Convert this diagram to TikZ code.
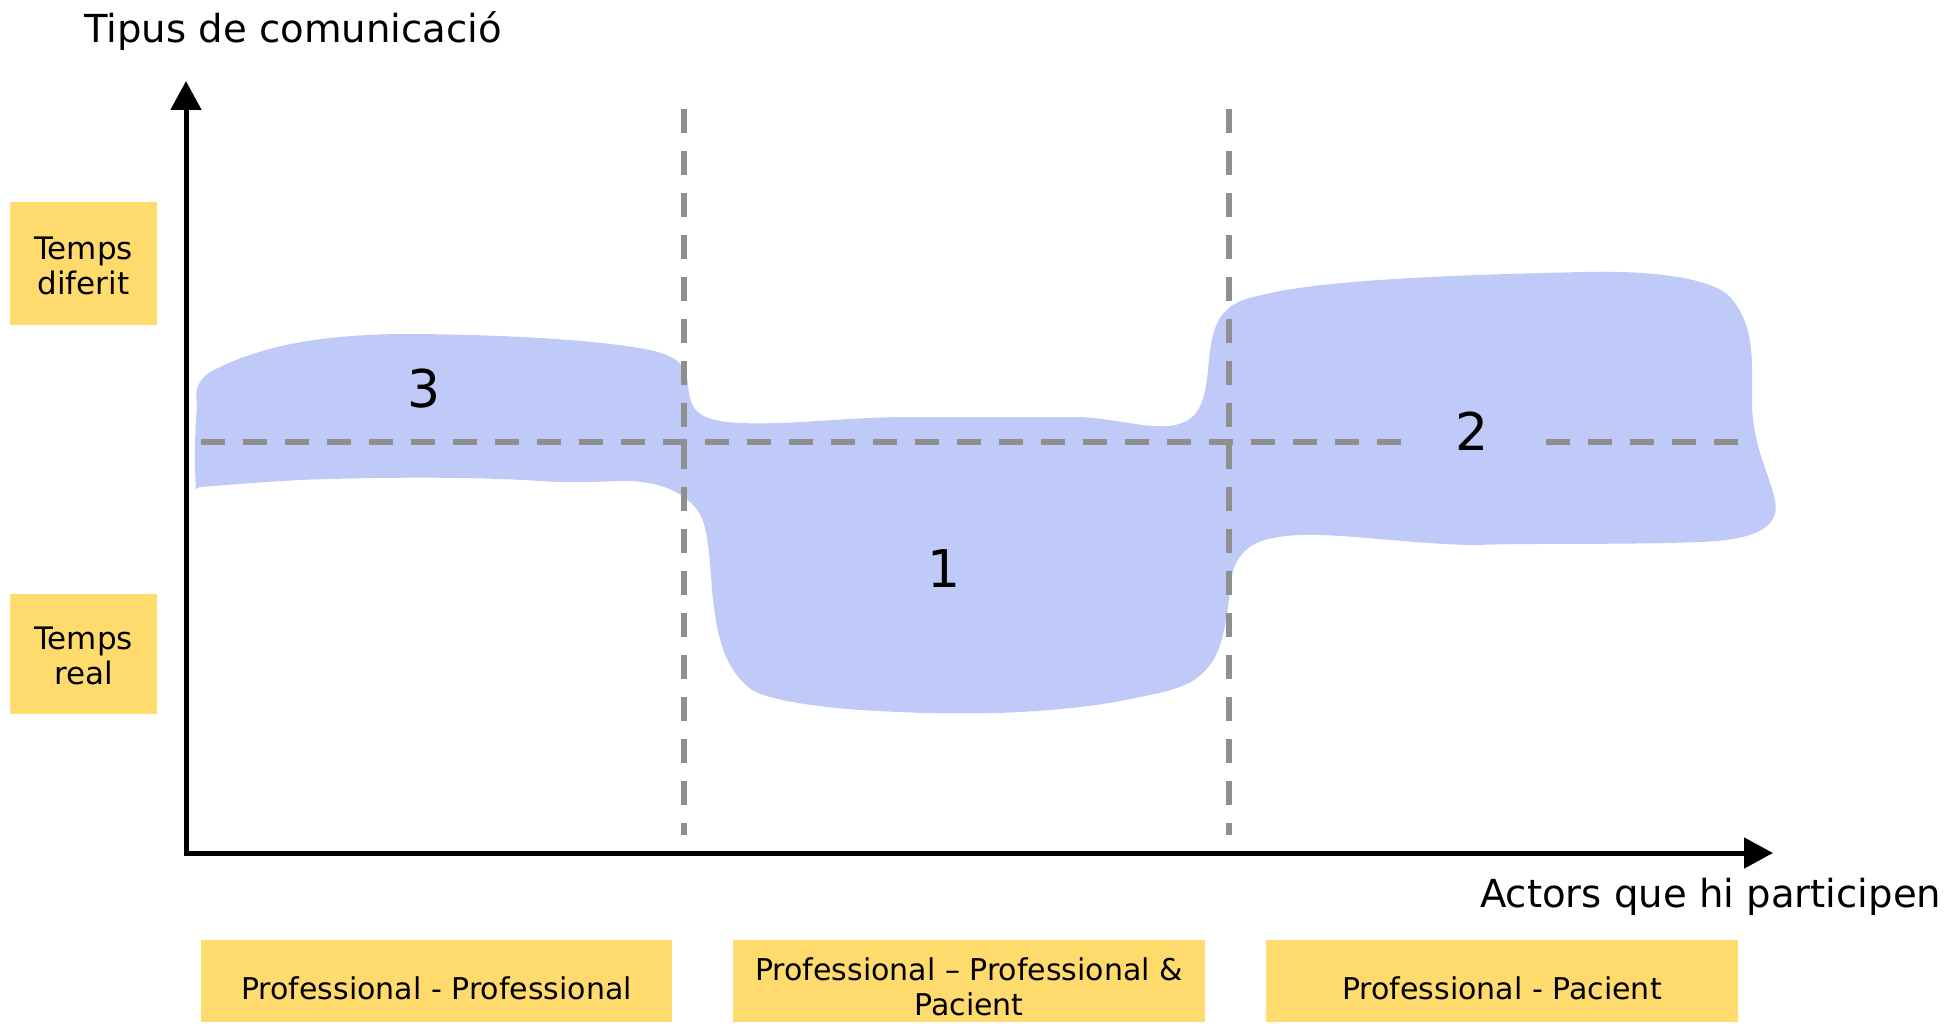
\documentclass[tikz,border=0pt]{standalone}
\usepackage{fontspec}
\setmainfont{DejaVu Sans}
\usetikzlibrary{arrows.meta}
\definecolor{blobblue}{RGB}{191,202,248}
\definecolor{noteyellow}{RGB}{255,219,110}
\definecolor{dashgray}{RGB}{143,143,143}
\begin{document}
\begin{tikzpicture}[x=1pt,y=-1pt,
  notebox/.style={fill=noteyellow, draw=none, inner sep=0pt},
  notetext/.style={align=center, inner sep=0pt, font=\fontsize{30}{35}\selectfont},
  axislabel/.style={font=\fontsize{38.6}{44}\selectfont, inner sep=0pt},
  zonelabel/.style={font=\fontsize{52}{60}\selectfont, inner sep=0pt},
  divider/.style={draw=dashgray, line width=6pt, dash pattern=on 24pt off 18pt},
  axisline/.style={line width=5pt, -{Triangle[length=29pt,width=30pt]}}]
\useasboundingbox (0,0) rectangle (1948,1024);

% blob region
\fill[blobblue] (197,405)
  .. controls (195,390) and (197,380) .. (212,371)
  .. controls (262,345) and (322,335) .. (400,334)
  .. controls (500,334) and (600,340) .. (650,350)
  .. controls (680,357) and (686,366) .. (688,385)
  .. controls (690,410) and (697,421) .. (740,423)
  .. controls (790,425) and (840,418) .. (900,417)
  -- (1079,417)
  .. controls (1120,419) and (1150,430) .. (1175,425)
  .. controls (1200,420) and (1205,400) .. (1208,370)
  .. controls (1212,320) and (1220,303) .. (1262,295)
  .. controls (1320,280) and (1450,275) .. (1584,272)
  .. controls (1660,270) and (1715,280) .. (1730,297)
  .. controls (1755,325) and (1752,360) .. (1752,400)
  .. controls (1752,445) and (1768,470) .. (1775,500)
  .. controls (1780,525) and (1760,540) .. (1700,542)
  .. controls (1620,545) and (1530,543) .. (1477,545)
  .. controls (1420,545) and (1340,533) .. (1300,535)
  .. controls (1260,537) and (1245,545) .. (1235,565)
  .. controls (1228,580) and (1230,640) .. (1210,665)
  .. controls (1195,685) and (1175,690) .. (1140,697)
  .. controls (1060,715) and (960,715) .. (900,712)
  .. controls (840,710) and (775,703) .. (752,690)
  .. controls (722,668) and (716,630) .. (712,590)
  .. controls (708,530) and (705,515) .. (690,502)
  .. controls (675,488) and (650,480) .. (620,481)
  .. controls (590,482) and (570,483) .. (540,481)
  .. controls (480,477) and (400,477) .. (330,479)
  .. controls (280,480) and (230,485) .. (200,487)
  .. controls (197,488) and (196,489) .. (196,490)
  .. controls (194,460) and (195,430) .. (197,405) -- cycle;

% dashed guide lines
\coordinate (v1t) at (684,109); \coordinate (v1b) at (684,835);
\coordinate (v2t) at (1229,109); \coordinate (v2b) at (1229,835);
\coordinate (h1a) at (201,442); \coordinate (h1b) at (1404,442);
\coordinate (h2a) at (1546,442); \coordinate (h2b) at (1739,442);
\draw[divider] (v1t) -- (v1b);
\draw[divider] (v2t) -- (v2b);
\draw[divider] (h1a) -- (h1b);
\draw[divider] (h2a) -- (h2b);

% axes
\coordinate (origin) at (186,855);
\coordinate (ytip) at (186,81);
\coordinate (xtip) at (1773,853);
\draw[axisline] (origin) -- (ytip);
\draw[axisline] ([xshift=-2.5pt]origin |- xtip) -- (xtip);

% axis titles
\node[axislabel, anchor=base west] (ytitle) at (84,43) {Tipus de comunicació};
\node[axislabel, anchor=base west] (xtitle) at (1480,907) {Actors que hi participen};

% zone numbers
\node[zonelabel] (z3) at (424,389) {3};
\node[zonelabel] (z1) at (944,569) {1};
\node[zonelabel] (z2) at (1472,431) {2};

% side boxes
\node[notebox, minimum width=147pt, minimum height=123pt] (diferit) at (83.5,263.5) {};
\node[notetext, font=\fontsize{31}{35}\selectfont] (diferittext) at ([yshift=-2.5pt]diferit.center) {Temps\\diferit};
\node[notebox, minimum width=147pt, minimum height=120pt] (real) at (83.5,654) {};
\node[notetext, font=\fontsize{31}{35}\selectfont] (realtext) at ([yshift=-2pt]real.center) {Temps\\real};

% bottom boxes
\node[notebox, minimum width=471pt, minimum height=82pt] (pp) at (436.5,981) {};
\node[notetext] (pptext) at ([yshift=-7.5pt]pp.center) {Professional - Professional};
\node[notebox, minimum width=472pt, minimum height=82pt] (ppp) at (969,981) {};
\node[notetext] (ppptext) at ([yshift=-5.5pt]ppp.center) {Professional – Professional \&\\Pacient};
\node[notebox, minimum width=472pt, minimum height=82pt] (pac) at (1502,981) {};
\node[notetext] (pactext) at ([yshift=-7.5pt]pac.center) {Professional - Pacient};
\end{tikzpicture}
\end{document}
